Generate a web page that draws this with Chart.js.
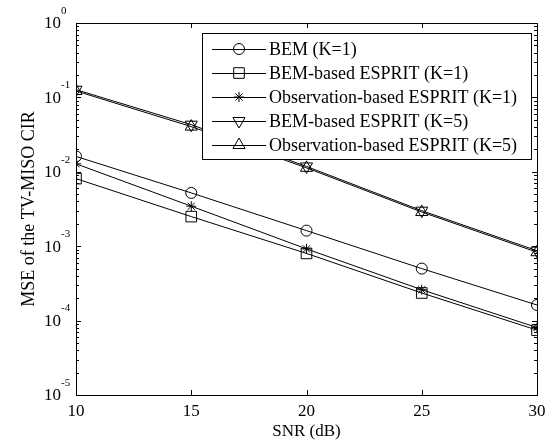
<!DOCTYPE html>
<html>
<head>
<meta charset="utf-8">
<script src="https://cdn.jsdelivr.net/npm/chart.js@4.4.1/dist/chart.umd.min.js"></script>
<style>
	html, body { margin: 0; padding: 0; background: #fff; }
	#wrap { width: 556px; height: 442px; }
</style>
</head>
<body>
<div id="wrap"><canvas id="mseChart" width="556" height="442"></canvas></div>
<script>
// SNR points (dB)
var snr = [10, 15, 20, 25, 30];

// MSE curves
var bemK1 = [0.0161, 0.0052, 0.00162, 0.0005, 0.000162];
var bemEspritK1 = [0.0081, 0.0025, 0.0008, 0.000235, 0.0000745];
var obsEspritK1 = [0.0128, 0.00345, 0.00092, 0.00026, 0.0000807];
var bemEspritK5 = [0.127, 0.043, 0.0118, 0.003, 0.00087];
var obsEspritK5 = [0.122, 0.0405, 0.0113, 0.00288, 0.00083];

var seriesNames = [
	"BEM (K=1)",
	"BEM-based ESPRIT (K=1)",
	"Observation-based ESPRIT (K=1)",
	"BEM-based ESPRIT (K=5)",
	"Observation-based ESPRIT (K=5)"
];

var xTicks = [10, 15, 20, 25, 30];
var yExponents = [0, -1, -2, -3, -4, -5];

var serif = "'Liberation Serif', 'Times New Roman', serif";

var markers = [
	{ style: "circle", radius: 5.5, rotation: 0 },
	{ style: "rect", radius: 7.5, rotation: 0 },
	{ style: "star", radius: 5, rotation: 0 },
	{ style: "triangle", radius: 7, rotation: 180 },
	{ style: "triangle", radius: 7, rotation: 0 }
];

function makeSet(i, values) {
	return {
		label: seriesNames[i],
		data: snr.map(function (x, j) { return { x: x, y: values[j] }; }),
		borderColor: "#000",
		borderWidth: 1,
		backgroundColor: "rgba(0,0,0,0)",
		pointStyle: markers[i].style,
		pointRadius: markers[i].radius,
		pointHoverRadius: markers[i].radius,
		pointRotation: markers[i].rotation,
		pointBorderColor: "#000",
		pointBorderWidth: 1,
		pointBackgroundColor: "rgba(0,0,0,0)",
		tension: 0,
		fill: false
	};
}

// simple marker drawer for the legend
function drawMarker(ctx, m, x, y) {
	var r = m.radius;
	ctx.beginPath();
	if (m.style === "circle") {
		ctx.arc(x, y, r, 0, Math.PI * 2);
	} else if (m.style === "rect") {
		var s = r * Math.SQRT1_2;
		ctx.rect(x - s, y - s, s * 2, s * 2);
	} else if (m.style === "star") {
		for (var a = 0; a < 4; a++) {
			var ang = a * Math.PI / 4;
			ctx.moveTo(x - Math.cos(ang) * r, y - Math.sin(ang) * r);
			ctx.lineTo(x + Math.cos(ang) * r, y + Math.sin(ang) * r);
		}
	} else if (m.style === "triangle") {
		var rot = m.rotation * Math.PI / 180;
		for (var k = 0; k < 3; k++) {
			var t = rot - Math.PI / 2 + k * 2 * Math.PI / 3;
			var px = x + Math.cos(t) * r, py = y + Math.sin(t) * r;
			if (k === 0) ctx.moveTo(px, py); else ctx.lineTo(px, py);
		}
		ctx.closePath();
	}
	ctx.stroke();
}

var axesPlugin = {
	id: "matlabAxes",
	afterDraw: function (chart) {
		var ctx = chart.ctx,
			 area = chart.chartArea,
			 xs = chart.scales.x,
			 ys = chart.scales.y;

		ctx.save();
		ctx.strokeStyle = "#000";
		ctx.fillStyle = "#000";
		ctx.lineWidth = 1;

		// frame
		ctx.strokeRect(area.left + 0.5, area.top + 0.5, area.right - area.left, area.bottom - area.top);

		// x ticks, top and bottom
		ctx.beginPath();
		xTicks.forEach(function (v) {
			var px = Math.round(xs.getPixelForValue(v)) + 0.5;
			ctx.moveTo(px, area.bottom);
			ctx.lineTo(px, area.bottom - 5);
			ctx.moveTo(px, area.top);
			ctx.lineTo(px, area.top + 5);
		});
		// y ticks, left and right, with minor ones
		yExponents.forEach(function (e) {
			for (var m = 1; m <= 9; m++) {
				var v = m * Math.pow(10, e);
				if (v > 1.0000001) continue;
				var py = Math.round(ys.getPixelForValue(v)) + 0.5;
				var len = m === 1 ? 5 : 3;
				ctx.moveTo(area.left, py);
				ctx.lineTo(area.left + len, py);
				ctx.moveTo(area.right, py);
				ctx.lineTo(area.right - len, py);
			}
		});
		ctx.stroke();

		// x tick labels
		ctx.font = "17px " + serif;
		ctx.textAlign = "center";
		ctx.textBaseline = "middle";
		xTicks.forEach(function (v) {
			ctx.fillText(String(v), xs.getPixelForValue(v), area.bottom + 17);
		});

		// y tick labels as 10^e
		yExponents.forEach(function (e) {
			var py = ys.getPixelForValue(Math.pow(10, e));
			ctx.font = "17px " + serif;
			ctx.textAlign = "right";
			ctx.textBaseline = "middle";
			ctx.fillText("10", area.left - 15, py + 1);
			ctx.font = "11px " + serif;
			ctx.textAlign = "left";
			ctx.fillText(String(e), area.left - 15, py - 12);
		});

		// axis titles
		ctx.font = "17px " + serif;
		ctx.textAlign = "center";
		ctx.textBaseline = "middle";
		ctx.fillText("SNR (dB)", (area.left + area.right) / 2, area.bottom + 37);
		ctx.save();
		ctx.font = "18px " + serif;
		ctx.translate(29, (area.top + area.bottom) / 2);
		ctx.rotate(-Math.PI / 2);
		ctx.fillText("MSE of the TV-MISO CIR", 0, 0);
		ctx.restore();

		// legend box
		var box = { left: 202, top: 33, right: 531, bottom: 159 };
		ctx.fillStyle = "#fff";
		ctx.fillRect(box.left, box.top, box.right - box.left, box.bottom - box.top);
		ctx.strokeRect(box.left + 0.5, box.top + 0.5, box.right - box.left, box.bottom - box.top);
		ctx.fillStyle = "#000";
		ctx.font = "18px " + serif;
		ctx.textAlign = "left";
		ctx.textBaseline = "middle";
		seriesNames.forEach(function (name, i) {
			var ry = box.top + 16 + i * 24;
			ctx.beginPath();
			ctx.moveTo(212, ry + 0.5);
			ctx.lineTo(266, ry + 0.5);
			ctx.stroke();
			drawMarker(ctx, markers[i], 239, ry);
			ctx.fillText(name, 269, ry + 1);
		});

		ctx.restore();
	}
};

var mseChart = new Chart(document.getElementById("mseChart").getContext("2d"), {
	type: "line",
	data: {
		datasets: [
			makeSet(0, bemK1),
			makeSet(1, bemEspritK1),
			makeSet(2, obsEspritK1),
			makeSet(3, bemEspritK5),
			makeSet(4, obsEspritK5)
		]
	},
	options: {
		responsive: false,
		animation: false,
		layout: { padding: { left: 76, right: 19, top: 23, bottom: 47 } },
		plugins: {
			legend: { display: false },
			tooltip: { enabled: false }
		},
		scales: {
			x: { type: "linear", min: 10, max: 30, display: false },
			y: { type: "logarithmic", min: 1e-5, max: 1, display: false }
		}
	},
	plugins: [axesPlugin]
});
</script>
</body>
</html>
